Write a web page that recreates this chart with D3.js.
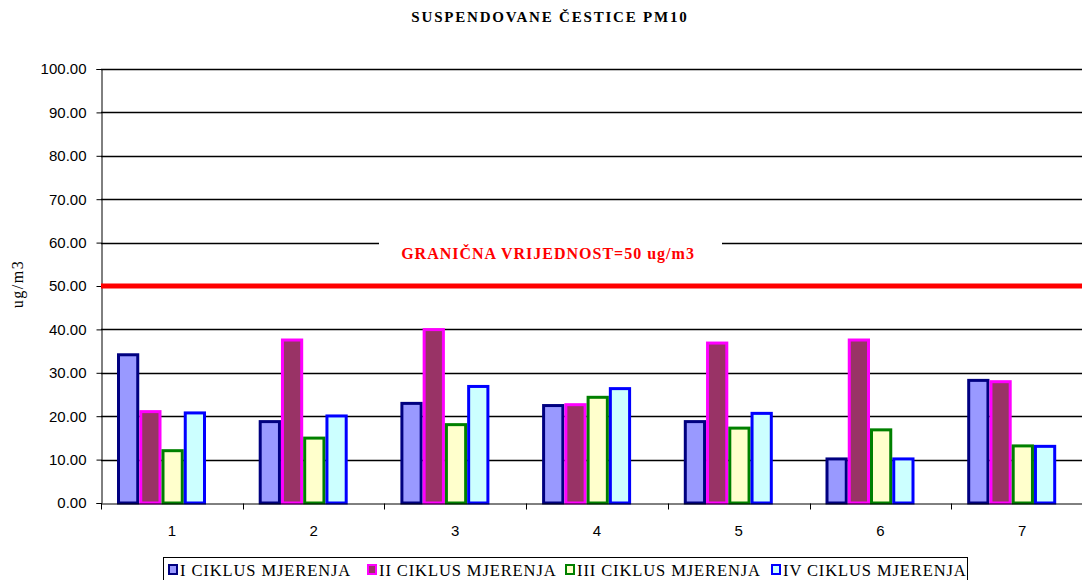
<!DOCTYPE html>
<html>
<head>
<meta charset="utf-8">
<script src="https://cdn.jsdelivr.net/npm/d3@7"></script>
<style>
  html, body { margin: 0; padding: 0; background: #fff; overflow: hidden; }
</style>
</head>
<body>
<svg id="chart" width="1082" height="580"></svg>
<script>
// data
const categories = ["1", "2", "3", "4", "5", "6", "7"];
const seriesNames = ["I CIKLUS MJERENJA", "II CIKLUS MJERENJA", "III CIKLUS MJERENJA", "IV CIKLUS MJERENJA"];
const ciklus1 = [34.5, 19.1, 23.3, 22.8, 19.1, 10.5, 28.6];
const ciklus2 = [21.4, 37.9, 40.3, 23.0, 37.2, 37.9, 28.3];
const ciklus3 = [12.4, 15.3, 18.4, 24.7, 17.6, 17.2, 13.5];
const ciklus4 = [21.1, 20.4, 27.2, 26.7, 21.0, 10.5, 13.4];
const yTicks = [0, 10, 20, 30, 40, 50, 60, 70, 80, 90, 100];
const limitValue = 50;
const limitLabel = "GRANIČNA VRIJEDNOST=50 ug/m3";
const title = "SUSPENDOVANE ČESTICE PM10";
const yLabel = "ug/m3";

const seriesValues = [ciklus1, ciklus2, ciklus3, ciklus4];
const fills = ["#9999FF", "#993366", "#FFFFCC", "#CCFFFF"];
const strokes = ["#000080", "#FF00FF", "#008000", "#0000FF"];

const serif = "'Liberation Serif', 'Times New Roman', serif";
const sans = "'Liberation Sans', Arial, sans-serif";

// layout
const plot = { left: 101, top: 69, bottom: 503, catWidth: 141.7 };
const plotRight = plot.left + plot.catWidth * categories.length;
const groupOffset = 16;   // bars sit a bit left of the category centre
const groupWidth = 89;

const svg = d3.select("#chart");

const x = d3.scaleBand().domain(categories).range([plot.left, plotRight]);
const xSub = d3.scaleBand().domain(d3.range(seriesNames.length)).range([0, groupWidth]);
const y = d3.scaleLinear().domain([0, 100]).range([plot.bottom, plot.top]);

// gridlines
svg.append("g")
  .selectAll("line")
  .data(yTicks.filter(d => d > 0))
  .join("line")
  .attr("x1", plot.left).attr("x2", plotRight)
  .attr("y1", d => Math.round(y(d)) + 0.5).attr("y2", d => Math.round(y(d)) + 0.5)
  .attr("stroke", "#000").attr("stroke-width", 1.3);

// y axis
const yAxis = svg.append("g")
  .attr("transform", `translate(${plot.left + 0.5},0)`)
  .call(d3.axisLeft(y).tickValues(yTicks).tickFormat(d3.format(".2f")).tickSize(5).tickPadding(10));
yAxis.select(".domain").attr("stroke", "#000");
yAxis.selectAll(".tick line").attr("stroke", "#000");
yAxis.selectAll("text")
  .attr("font-family", sans)
  .attr("font-size", 15).attr("fill", "#000");

// limit label with white box, drawn over gridline 60
const lab = svg.append("g");
lab.append("rect")
  .attr("x", 379).attr("y", y(limitValue) - 52)
  .attr("width", 343).attr("height", 40)
  .attr("fill", "#fff");
lab.append("text")
  .attr("x", 548).attr("y", y(limitValue) - 27)
  .attr("text-anchor", "middle")
  .attr("font-family", serif)
  .attr("font-weight", "bold").attr("font-size", 16)
  .attr("letter-spacing", 1)
  .attr("fill", "#FF0000")
  .text(limitLabel);

// bars
const groups = svg.append("g")
  .selectAll("g")
  .data(categories)
  .join("g")
  .attr("transform", d => `translate(${x(d) + groupOffset},0)`);

groups.selectAll("rect")
  .data((c, ci) => seriesValues.map((vals, si) => ({ si, v: vals[ci] })))
  .join("rect")
  .attr("x", d => xSub(d.si) + 1.5)
  .attr("y", d => y(d.v) + 1.5)
  .attr("width", xSub.bandwidth() - 3)
  .attr("height", d => y(0) - y(d.v) - 1.5)
  .attr("fill", d => fills[d.si])
  .attr("stroke", d => strokes[d.si])
  .attr("stroke-width", 3);

// limit line
svg.append("line")
  .attr("x1", plot.left).attr("x2", plotRight)
  .attr("y1", y(limitValue)).attr("y2", y(limitValue))
  .attr("stroke", "#FF0000").attr("stroke-width", 5);

// x axis
const xAxis = svg.append("g")
  .attr("transform", `translate(0,${plot.bottom + 0.5})`)
  .call(d3.axisBottom(x).tickSize(0).tickPadding(22));
xAxis.select(".domain").attr("stroke", "#000");
xAxis.selectAll("text")
  .attr("font-family", sans)
  .attr("font-size", 15).attr("fill", "#000");
xAxis.selectAll(".sep")
  .data(categories.concat([null]))
  .join("line")
  .attr("class", "sep")
  .attr("x1", (d, i) => Math.round(plot.left + i * x.bandwidth()) + 0.5)
  .attr("x2", (d, i) => Math.round(plot.left + i * x.bandwidth()) + 0.5)
  .attr("y1", 0).attr("y2", 6)
  .attr("stroke", "#000");

// title
svg.append("text")
  .attr("x", 550).attr("y", 22)
  .attr("text-anchor", "middle")
  .attr("font-family", serif)
  .attr("font-weight", "bold").attr("font-size", 15)
  .attr("letter-spacing", 1.8)
  .text(title);

// y label
svg.append("text")
  .attr("transform", `translate(23,${284}) rotate(-90)`)
  .attr("text-anchor", "middle")
  .attr("font-family", serif)
  .attr("font-size", 16)
  .attr("letter-spacing", 1.5)
  .text(yLabel);

// legend
const legendX = [168, 367, 565, 771];
const legend = svg.append("g");
legend.append("rect")
  .attr("x", 163.5).attr("y", 557.5)
  .attr("width", 804).attr("height", 30)
  .attr("fill", "#fff").attr("stroke", "#000");
const items = legend.selectAll("g.item")
  .data(seriesNames)
  .join("g")
  .attr("class", "item")
  .attr("transform", (d, i) => `translate(${legendX[i]},0)`);
items.append("rect")
  .attr("x", 1).attr("y", 565)
  .attr("width", 8).attr("height", 9)
  .attr("fill", (d, i) => fills[i])
  .attr("stroke", (d, i) => strokes[i])
  .attr("stroke-width", 2);
items.append("text")
  .attr("x", 12).attr("y", 576)
  .attr("font-family", serif)
  .attr("font-size", 16.5)
  .attr("letter-spacing", 0.9)
  .text(d => d);
</script>
</body>
</html>
